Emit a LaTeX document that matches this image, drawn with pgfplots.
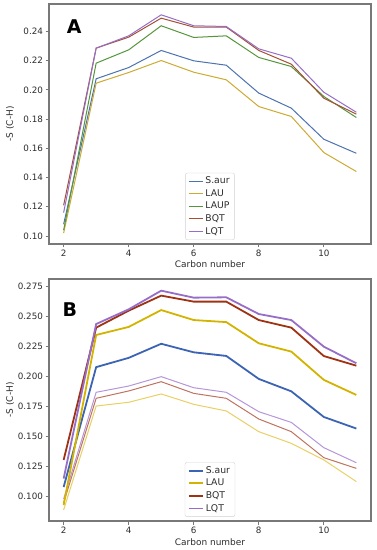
\documentclass[border=0pt]{standalone}
\usepackage{fontspec}
\setmainfont{DejaVu Sans}
\usepackage{pgfplots}
\pgfplotsset{compat=1.18}
\definecolor{cblue}{RGB}{76,114,176}
\definecolor{clau}{RGB}{205,170,50}
\definecolor{claup}{RGB}{85,150,60}
\definecolor{cbqt}{RGB}{165,80,50}
\definecolor{clqt}{RGB}{150,110,200}
\definecolor{bblue}{RGB}{60,100,180}
\definecolor{blau}{RGB}{210,180,0}
\definecolor{bbqt}{RGB}{160,50,20}
\definecolor{blqt}{RGB}{150,110,200}
\definecolor{tlau}{RGB}{232,208,100}
\definecolor{tbqt}{RGB}{190,115,95}
\definecolor{tlqt}{RGB}{180,150,218}
\definecolor{frame}{RGB}{120,120,120}
\definecolor{txt}{RGB}{45,45,45}
\pgfplotsset{
  common/.style={
    scale only axis, width=322bp,
    xmin=1.55, xmax=11.45,
    xtick={2,4,6,8,10},
    axis line style={frame, line width=1.1bp},
    tick style={frame, line width=0.8bp},
    tick align=outside, tickwidth=3.5bp,
    xtick pos=bottom, ytick pos=left,
    /pgf/number format/assume math mode=true,
    tick label style={font=\fontsize{8.8}{10}\selectfont, text=txt},
    xticklabel style={yshift=1bp},
    yticklabel style={xshift=1bp},
    label style={font=\fontsize{9}{10}\selectfont, text=txt},
    xlabel={Carbon number},
    xlabel style={at={(axis description cs:0.5,0)}, anchor=base, yshift=-24bp},
    ylabel={-S (C-H)},
    ylabel style={at={(axis description cs:-0.121,0.5)}, anchor=center, rotate=0},
    legend cell align=left,
    legend style={at={(0.5,0.017)}, anchor=south, draw=gray!35, rounded corners=2pt,
      font=\fontsize{9.3}{11}\selectfont, text=txt, inner xsep=3bp, inner ysep=2bp,
      row sep=0.3bp},
    legend image code/.code={\draw[#1] (0bp,0bp) -- (14bp,0bp);},
  }
}
\begin{document}
\begin{tikzpicture}
\useasboundingbox (0,0) rectangle (377bp,550bp);
\begin{axis}[common, at={(49bp,306bp)}, anchor=south west, height=240bp,
  ymin=0.0945, ymax=0.2588,
  ytick={0.10,0.12,0.14,0.16,0.18,0.20,0.22,0.24},
  yticklabel style={/pgf/number format/.cd, fixed, fixed zerofill, precision=2},
]
\addplot[cblue, line width=1bp] coordinates {(2,0.108) (3,0.2076) (4,0.2153) (5,0.2270) (6,0.2199) (7,0.2169) (8,0.1978) (9,0.1875) (10,0.1662) (11,0.1566)};
\addlegendentry{S.aur}
\addplot[clau, line width=1bp] coordinates {(2,0.102) (3,0.2046) (4,0.2119) (5,0.2201) (6,0.2121) (7,0.2069) (8,0.1886) (9,0.1818) (10,0.1571) (11,0.1441)};
\addlegendentry{LAU}
\addplot[claup, line width=1bp] coordinates {(2,0.104) (3,0.2183) (4,0.2274) (5,0.2439) (6,0.2359) (7,0.2370) (8,0.2222) (9,0.2160) (10,0.1955) (11,0.1811)};
\addlegendentry{LAUP}
\addplot[cbqt, line width=1bp] coordinates {(2,0.121) (3,0.2286) (4,0.2361) (5,0.2491) (6,0.2430) (7,0.2430) (8,0.2270) (9,0.2176) (10,0.1943) (11,0.1834)};
\addlegendentry{BQT}
\addplot[clqt, line width=1bp] coordinates {(2,0.116) (3,0.2286) (4,0.2370) (5,0.2514) (6,0.2439) (7,0.2434) (8,0.2281) (9,0.2217) (10,0.1984) (11,0.1847)};
\addlegendentry{LQT}
\node[font=\fontsize{19}{20}\selectfont\bfseries] at (rel axis cs:0.078,0.904) {A};
\end{axis}
\begin{axis}[common, at={(49bp,29bp)}, anchor=south west, height=242bp,
  ymin=0.0798, ymax=0.2808,
  ytick={0.100,0.125,0.150,0.175,0.200,0.225,0.250,0.275},
  yticklabel style={/pgf/number format/.cd, fixed, fixed zerofill, precision=3},
]
\addplot[tlqt, line width=1bp, forget plot] coordinates {(2,0.098) (3,0.1867) (4,0.1919) (5,0.1997) (6,0.1905) (7,0.1867) (8,0.1706) (9,0.1617) (10,0.1407) (11,0.1282)};
\addplot[tbqt, line width=1bp, forget plot] coordinates {(2,0.095) (3,0.1817) (4,0.1878) (5,0.1955) (6,0.1858) (7,0.1817) (8,0.1645) (9,0.1540) (10,0.1324) (11,0.1235)};
\addplot[tlau, line width=1bp, forget plot] coordinates {(2,0.089) (3,0.1753) (4,0.1784) (5,0.1853) (6,0.1767) (7,0.1712) (8,0.1540) (9,0.1443) (10,0.1305) (11,0.1125)};
\addplot[bblue, line width=1.8bp] coordinates {(2,0.108) (3,0.2076) (4,0.2153) (5,0.2270) (6,0.2199) (7,0.2169) (8,0.1978) (9,0.1875) (10,0.1662) (11,0.1566)};
\addlegendentry{S.aur}
\addplot[blau, line width=1.8bp] coordinates {(2,0.093) (3,0.2343) (4,0.2410) (5,0.2550) (6,0.2467) (7,0.2450) (8,0.2274) (9,0.2205) (10,0.1970) (11,0.1845)};
\addlegendentry{LAU}
\addplot[bbqt, line width=1.8bp] coordinates {(2,0.1305) (3,0.2404) (4,0.2545) (5,0.2670) (6,0.2620) (7,0.2620) (8,0.2467) (9,0.2404) (10,0.2168) (11,0.2088)};
\addlegendentry{BQT}
\addplot[blqt, line width=1.8bp] coordinates {(2,0.115) (3,0.2434) (4,0.2556) (5,0.2711) (6,0.2653) (7,0.2656) (8,0.2517) (9,0.2467) (10,0.2246) (11,0.2108)};
\addlegendentry{LQT}
\node[font=\fontsize{19}{20}\selectfont\bfseries] at (rel axis cs:0.065,0.873) {B};
\end{axis}
\end{tikzpicture}
\end{document}
